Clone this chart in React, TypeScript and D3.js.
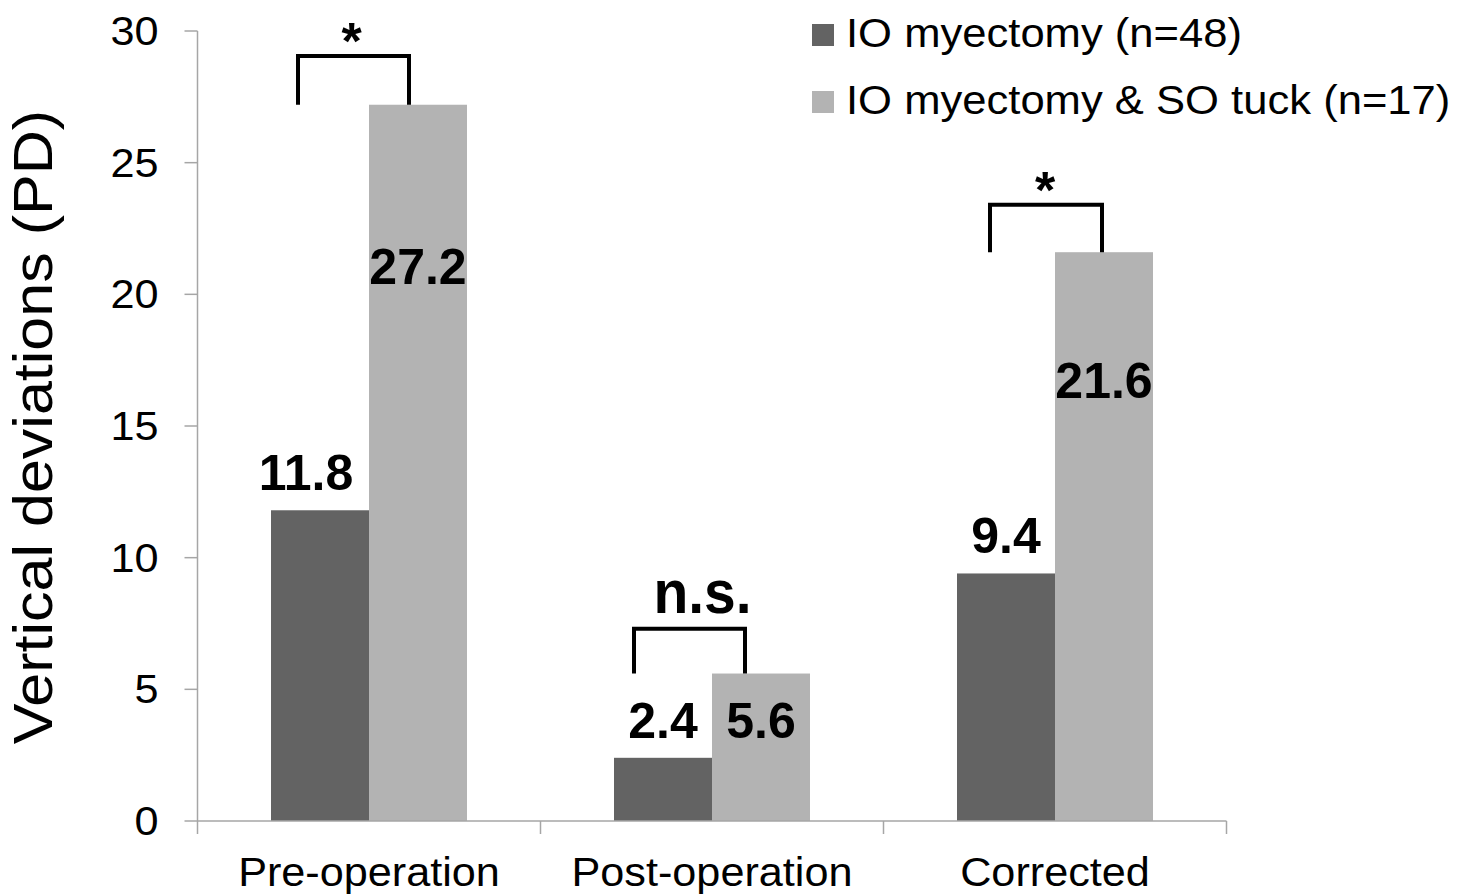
import React from "react";
import * as d3 from "d3";

const categories = ["Pre-operation", "Post-operation", "Corrected"];
const seriesNames = ["IO myectomy (n=48)", "IO myectomy & SO tuck (n=17)"];
const ioMyectomy = [11.8, 2.4, 9.4];
const ioTuck = [27.2, 5.6, 21.6];
// value (in PD units) at which the light-bar labels sit (baseline)
const tuckLabelAt = [20.4, 3.15, 16.05];
const yTicks = [0, 5, 10, 15, 20, 25, 30];

// significance brackets: top value, label
const brackets = [
  { cat: 0, top: 29.05, label: "*", leftShift: -22, rightShift: -9, textShift: -2 },
  { cat: 1, top: 7.3, label: "n.s.", leftShift: -29, rightShift: -16, textShift: 13 },
  { cat: 2, top: 23.4, label: "*", leftShift: -16, rightShift: -2, textShift: -1 },
];
const darkLabelShift = [-14, 0, 0];

const W = 1469;
const H = 895;
const FONT = "'Liberation Sans', Arial, Helvetica, sans-serif";
const DARK = "#636363";
const LIGHT = "#b3b3b3";
const AXIS = "#a6a6a6";

export default function App() {
  const x0 = 197.5;
  const x1 = 1226.5;
  const y = d3.scaleLinear().domain([0, 30]).range([821, 31]);
  const xCat = d3.scaleBand<string>().domain(categories).range([x0, x1]).padding(0);
  const xSer = d3
    .scaleBand<string>()
    .domain(["a", "b"])
    .range([0, xCat.bandwidth()])
    .paddingInner(0)
    .paddingOuter(0.75);
  const bw = xSer.bandwidth();
  const series = [ioMyectomy, ioTuck];
  const colors = [DARK, LIGHT];
  const boundaries = [...categories.map((c) => xCat(c)!), x1];

  return (
    <svg
      width={W}
      height={H}
      style={{ position: "absolute", left: 0, top: 0, background: "#fff" }}
      fontFamily={FONT}
    >
      <rect x={0} y={0} width={W} height={H} fill="#fff" />
      {/* bars */}
      {categories.map((c, i) =>
        series.map((s, k) => (
          <rect
            key={c + k}
            x={xCat(c)! + xSer(k === 0 ? "a" : "b")!}
            y={y(s[i])}
            width={bw}
            height={y(0) - y(s[i])}
            fill={colors[k]}
          />
        ))
      )}
      {/* y axis */}
      <line x1={x0} x2={x0} y1={y(30)} y2={y(0)} stroke={AXIS} strokeWidth={1.5} />
      {yTicks.map((t) => (
        <g key={t}>
          <line x1={x0 - 13} x2={x0} y1={y(t)} y2={y(t)} stroke={AXIS} strokeWidth={1.5} />
          <text
            transform={`translate(${x0 - 39},${y(t) + 14}) scale(1.08,1)`}
            textAnchor="end"
            fontSize={40}
            fill="#000"
          >
            {t}
          </text>
        </g>
      ))}
      {/* x axis */}
      <line x1={x0} x2={x1} y1={y(0)} y2={y(0)} stroke={AXIS} strokeWidth={1.5} />
      {boundaries.map((b, i) => (
        <line key={i} x1={b} x2={b} y1={y(0)} y2={y(0) + 13} stroke={AXIS} strokeWidth={1.5} />
      ))}
      {categories.map((c) => (
        <text
          key={c}
          transform={`translate(${xCat(c)! + xCat.bandwidth() / 2},886) scale(1.08,1)`}
          textAnchor="middle"
          fontSize={40}
          fill="#000"
        >
          {c}
        </text>
      ))}
      {/* y title */}
      <text
        transform={`translate(52,427) rotate(-90) scale(1.09,1)`}
        textAnchor="middle"
        fontSize={56}
        fill="#000"
      >
        Vertical deviations (PD)
      </text>
      {/* value labels */}
      {categories.map((c, i) => {
        const cxA = xCat(c)! + xSer("a")! + bw / 2;
        const cxB = xCat(c)! + xSer("b")! + bw / 2;
        return (
          <g key={"lab" + c} fontWeight="bold" fontSize={50} textAnchor="middle" fill="#000">
            <text x={cxA + darkLabelShift[i]} y={y(ioMyectomy[i]) - 20}>
              {ioMyectomy[i].toFixed(1)}
            </text>
            <text x={cxB} y={y(tuckLabelAt[i])}>
              {ioTuck[i].toFixed(1)}
            </text>
          </g>
        );
      })}
      {/* brackets */}
      {brackets.map((b, j) => {
        const c = categories[b.cat];
        const cxA = xCat(c)! + xSer("a")! + bw / 2;
        const cxB = xCat(c)! + xSer("b")! + bw / 2;
        const xl = cxA + b.leftShift;
        const xr = cxB + b.rightShift;
        const yt = y(b.top);
        const yb = y(ioTuck[b.cat]);
        const path = d3.path();
        path.moveTo(xl, yb);
        path.lineTo(xl, yt);
        path.lineTo(xr, yt);
        path.lineTo(xr, yb);
        const isStar = b.label === "*";
        return (
          <g key={"br" + j}>
            <path d={path.toString()} fill="none" stroke="#000" strokeWidth={4} strokeLinejoin="miter" />
            <text
              transform={`translate(${(xl + xr) / 2 + b.textShift},${isStar ? yt + 3 : yt - 16}) scale(${isStar ? 1 : 0.92},1)`}
              textAnchor="middle"
              fontWeight="bold"
              fontSize={isStar ? 52 : 62}
              fill="#000"
            >
              {b.label}
            </text>
          </g>
        );
      })}
      {/* legend */}
      {seriesNames.map((n, k) => {
        const base = 47 + k * 67;
        return (
          <g key={n}>
            <rect x={812} y={base - 23} width={22} height={22} fill={colors[k]} />
            <text
              transform={`translate(846,${base}) scale(1.09,1)`}
              fontSize={40}
              fill="#000"
            >
              {n}
            </text>
          </g>
        );
      })}
    </svg>
  );
}
